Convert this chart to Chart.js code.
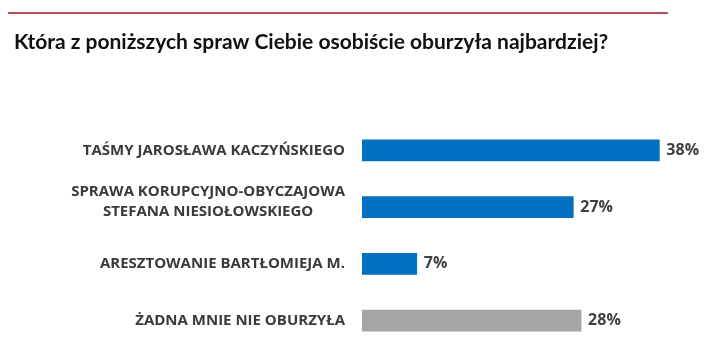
<!DOCTYPE html>
<html>
<head>
<meta charset="utf-8">
<script src="https://cdn.jsdelivr.net/npm/chart.js@4"></script>
<style>
  html, body { margin: 0; padding: 0; background: #fff; }
  #wrap { position: relative; width: 715px; height: 361px; }
</style>
</head>
<body>
<div id="wrap"><canvas id="surveyChart" width="715" height="361"></canvas></div>
<script>
const title = 'Która z poniższych spraw Ciebie osobiście oburzyła najbardziej?';
const categories = [
    ['TAŚMY JAROSŁAWA KACZYŃSKIEGO'],
    ['SPRAWA KORUPCYJNO-OBYCZAJOWA', 'STEFANA NIESIOŁOWSKIEGO'],
    ['ARESZTOWANIE BARTŁOMIEJA M.'],
    ['ŻADNA MNIE NIE OBURZYŁA']
];
const values = [38, 27, 7, 28];
const barColors = ['#0070c0', '#0070c0', '#0070c0', '#a6a6a6'];

// header: thin red rule + question
const headerPlugin = {
    id: 'header',
    beforeDraw(chart) {
        const ctx = chart.ctx;
        ctx.save();
        ctx.strokeStyle = '#b5505a';
        ctx.lineWidth = 2;
        ctx.beginPath();
        ctx.moveTo(8, 13);
        ctx.lineTo(668, 13);
        ctx.stroke();

        ctx.fillStyle = '#111';
        ctx.font = 'bold 21px "Liberation Sans Narrow", Lato, sans-serif';
        ctx.textBaseline = 'alphabetic';
        ctx.textAlign = 'left';
        ctx.fillText(title, 14, 49);
        ctx.restore();
    }
};

// category labels, right aligned block, lines centered inside the block
const labelPlugin = {
    id: 'catLabels',
    afterDraw(chart) {
        const ctx = chart.ctx;
        const y = chart.scales.y;
        const right = 345;
        const lh = 20;
        ctx.save();
        ctx.font = 'bold 15px "Open Sans", sans-serif';
        ctx.fillStyle = '#3a3a3a';
        ctx.textBaseline = 'middle';
        ctx.textAlign = 'center';
        categories.forEach((lines, i) => {
            const w = Math.max(...lines.map(l => ctx.measureText(l).width));
            const cx = right - w / 2;
            const cy = y.getPixelForValue(i) - (lines.length > 1 ? 5 : 0);
            const top = cy - (lines.length - 1) * lh / 2;
            lines.forEach((l, k) => ctx.fillText(l, cx, top + k * lh));
        });

        // value labels at bar ends
        const meta = chart.getDatasetMeta(0);
        ctx.font = 'bold 16px "Open Sans", sans-serif';
        ctx.fillStyle = '#404040';
        ctx.textAlign = 'left';
        meta.data.forEach((bar, i) => {
            ctx.fillText(values[i] + '%', bar.x + 7, bar.y);
        });
        ctx.restore();
    }
};

new Chart(document.getElementById('surveyChart'), {
    type: 'bar',
    data: {
        labels: categories,
        datasets: [{
            data: values,
            backgroundColor: barColors,
            barThickness: 21
        }]
    },
    options: {
        indexAxis: 'y',
        responsive: false,
        animation: false,
        layout: { padding: { left: 362, right: 40, top: 122, bottom: 12 } },
        scales: {
            x: { display: false, min: 0, max: 40 },
            y: { display: false }
        },
        plugins: {
            legend: { display: false },
            tooltip: { enabled: false }
        }
    },
    plugins: [headerPlugin, labelPlugin]
});
</script>
</body>
</html>
